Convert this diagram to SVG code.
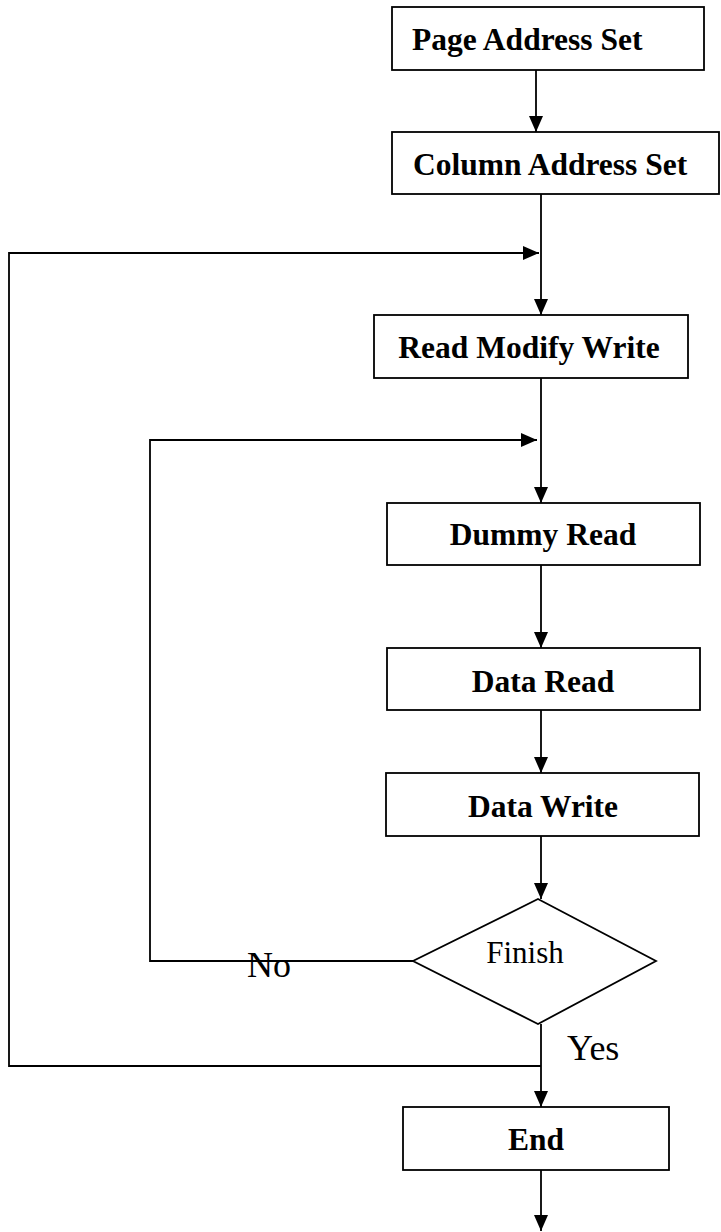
<svg xmlns="http://www.w3.org/2000/svg" width="721" height="1232" viewBox="0 0 721 1232">
<style>
.box{fill:#fff;stroke:#000;stroke-width:1.8}
.ln{fill:none;stroke:#000;stroke-width:1.8}
.bt{font-family:"Liberation Serif","Times New Roman",serif;font-weight:bold;font-size:31.5px;fill:#000}
.rt{font-family:"Liberation Serif","Times New Roman",serif;font-size:31px;fill:#000}
.lb{font-family:"Liberation Serif","Times New Roman",serif;font-size:36px;fill:#000}
</style>
<defs>
<marker id="ah" markerUnits="userSpaceOnUse" markerWidth="17" markerHeight="14" refX="16" refY="7" orient="auto">
<path d="M0,0 L16,7 L0,14 z" fill="#000"/>
</marker>
</defs>
<rect x="0" y="0" width="721" height="1232" fill="#fff"/>
<g id="connectors">
<line class="ln" x1="536" y1="70" x2="536" y2="132" marker-end="url(#ah)"/>
<line class="ln" x1="541" y1="194" x2="541" y2="315" marker-end="url(#ah)"/>
<polyline class="ln" points="541,1066 9,1066 9,253 539,253" marker-end="url(#ah)"/>
<line class="ln" x1="541" y1="378" x2="541" y2="503" marker-end="url(#ah)"/>
<polyline class="ln" points="413,961 150,961 150,440 537,440" marker-end="url(#ah)"/>
<line class="ln" x1="541" y1="565" x2="541" y2="648" marker-end="url(#ah)"/>
<line class="ln" x1="541" y1="710" x2="541" y2="773" marker-end="url(#ah)"/>
<line class="ln" x1="541" y1="836" x2="541" y2="899" marker-end="url(#ah)"/>
<line class="ln" x1="541" y1="1024" x2="541" y2="1107" marker-end="url(#ah)"/>
<line class="ln" x1="541" y1="1170" x2="541" y2="1231" marker-end="url(#ah)"/>
<text class="lb" x="247" y="977">No</text>
<text class="lb" x="567" y="1060">Yes</text>
</g>
<g id="page">
<rect class="box" x="392" y="7" width="312" height="63"/>
<text class="bt" x="412" y="50">Page Address Set</text>
</g>
<g id="column">
<rect class="box" x="392" y="132" width="327" height="62"/>
<text class="bt" x="413" y="175">Column Address Set</text>
</g>
<g id="rmw">
<rect class="box" x="374" y="315" width="314" height="63"/>
<text class="bt" x="529" y="358" text-anchor="middle">Read Modify Write</text>
</g>
<g id="dummy">
<rect class="box" x="387" y="503" width="313" height="62"/>
<text class="bt" x="543" y="545" text-anchor="middle">Dummy Read</text>
</g>
<g id="dataread">
<rect class="box" x="387" y="648" width="313" height="62"/>
<text class="bt" x="543" y="692" text-anchor="middle">Data Read</text>
</g>
<g id="datawrite">
<rect class="box" x="386" y="773" width="313" height="63"/>
<text class="bt" x="543" y="817" text-anchor="middle">Data Write</text>
</g>
<g id="finish">
<polygon class="box" points="538,899 656,961 538,1024 413,961"/>
<text class="rt" x="525" y="963" text-anchor="middle">Finish</text>
</g>
<g id="end">
<rect class="box" x="403" y="1107" width="266" height="63"/>
<text class="bt" x="536" y="1150" text-anchor="middle">End</text>
</g>
</svg>
